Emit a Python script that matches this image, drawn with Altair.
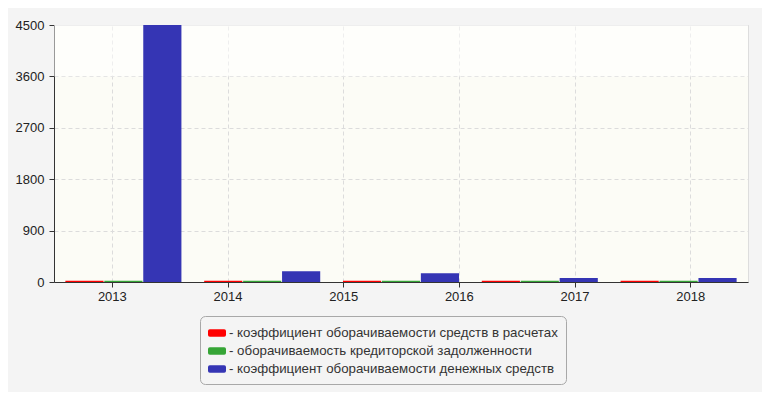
import altair as alt
import pandas as pd

# ---- data ----
groups = ["2013", "2014", "2015", "2016", "2017"]
axis_years = ["2013", "2014", "2015", "2016", "2017", "2018"]
series = [
    "коэффициент оборачиваемости средств в расчетах",
    "оборачиваемость кредиторской задолженности",
    "коэффициент оборачиваемости денежных средств",
]
red_vals = [24, 24, 24, 24, 24]
green_vals = [24, 24, 24, 24, 24]
blue_vals = [4500, 190, 155, 70, 70]
colors = ["#ff0000", "#36a536", "#3535b4"]
y_ticks = [0, 900, 1800, 2700, 3600, 4500]
band_lo = [3600]
band_hi = [4500]

rows = []
for name, vals in zip(series, [red_vals, green_vals, blue_vals]):
    for g, v in zip(groups, vals):
        rows.append({"group": g, "series": name, "value": v})
df = pd.DataFrame(rows)
band_df = pd.DataFrame({"lo": band_lo, "hi": band_hi})
years_df = pd.DataFrame({"year": axis_years})

FONT = "Liberation Sans"
yscale = alt.Scale(domain=[0, 4500], nice=False, zero=True)


def y_axis():
    return alt.Axis(
        values=y_ticks, format="d", title=None, tickSize=5, labelPadding=5,
        grid=True, gridDash=[4, 3], gridColor="#dcdcdc",
        domainColor="#333333", tickColor="#333333",
        labelFont=FONT, labelFontSize=13, labelColor="#222222",
    )


band = alt.Chart(band_df).mark_rect(fill="#ffffff", opacity=0.5).encode(
    y=alt.Y("lo:Q", scale=yscale, axis=y_axis()),
    y2="hi:Q",
)

legend_symbol = (
    "M-0.8,-0.42 L0.8,-0.42 Q1,-0.42 1,-0.22 L1,0.22 Q1,0.42 0.8,0.42 "
    "L-0.8,0.42 Q-1,0.42 -1,0.22 L-1,-0.22 Q-1,-0.42 -0.8,-0.42 Z"
)

bars = alt.Chart(df).mark_bar().encode(
    x=alt.X("group:N", sort=groups, axis=None,
            scale=alt.Scale(paddingInner=0.164, paddingOuter=0.082)),
    xOffset=alt.XOffset("series:N", sort=series,
                        scale=alt.Scale(paddingInner=0.02, paddingOuter=0)),
    y=alt.Y("value:Q", scale=yscale, axis=y_axis()),
    color=alt.Color(
        "series:N", sort=series,
        scale=alt.Scale(domain=series, range=colors),
        legend=alt.Legend(
            orient="none", legendX=146, legendY=291, title=None,
            fillColor="#f4f4f4", strokeColor="#a8a8a8", cornerRadius=5,
            padding=8, rowPadding=2, symbolType=legend_symbol,
            symbolSize=324, symbolStrokeWidth=0, symbolOpacity=1,
            labelFont=FONT, labelFontSize=13.3, labelColor="#333333",
            labelExpr="'- ' + datum.label", labelOffset=3, labelLimit=600,
        ),
    ),
)

year_axis = alt.Chart(years_df).mark_point(opacity=0).encode(
    x=alt.X("year:N", sort=axis_years,
            scale=alt.Scale(type="point", padding=0.5),
            axis=alt.Axis(
                orient="bottom", title=None, tickSize=5, labelPadding=3,
                labelAngle=0, grid=True, gridDash=[4, 3], gridColor="#dcdcdc",
                domainColor="#333333", tickColor="#333333",
                labelFont=FONT, labelFontSize=13, labelColor="#222222",
            )),
)

chart = alt.layer(band, bars, year_axis).resolve_scale(
    x="independent"
).properties(
    width=694, height=257,
    autosize=alt.AutoSizeParams(type="none"),
    padding={"left": 46, "top": 17, "right": 14, "bottom": 110},
    background="#f4f4f4",
).configure_view(
    stroke="#dddddd", fill="#fcfcf6"
)

chart.save("out.html", embed_options={"renderer": "svg", "actions": False})
